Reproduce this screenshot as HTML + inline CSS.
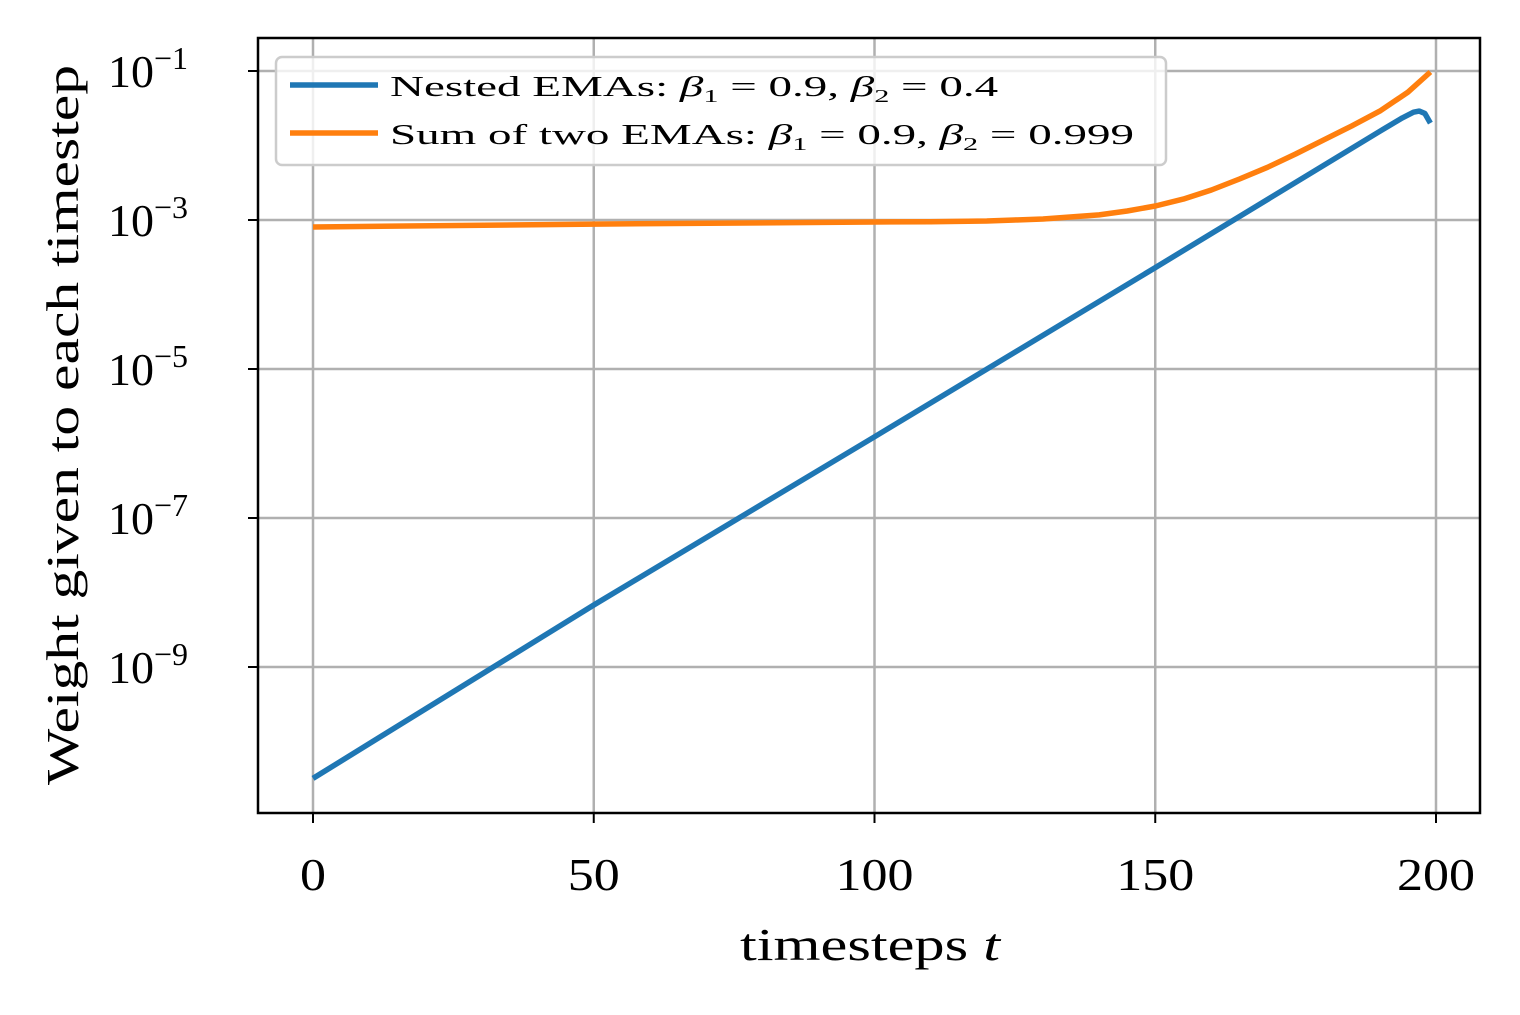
<!DOCTYPE html>
<html><head><meta charset="utf-8"><style>
body{margin:0;background:#fff;}
svg text{font-family:"Liberation Serif","DejaVu Serif",serif;fill:#000;}
</style></head><body>
<svg id="chart" width="1520" height="1010" xmlns="http://www.w3.org/2000/svg">
<rect width="1520" height="1010" fill="#fff"/>
<g id="grid"></g>
<g id="series"></g>
<rect x="258" y="38" width="1222" height="775" fill="none" stroke="#000" stroke-width="2.5"/>
<g id="ticks"></g>
<text x="740" y="960" font-size="46" textLength="260" lengthAdjust="spacingAndGlyphs">timesteps <tspan font-style="italic">t</tspan></text>
<text transform="translate(78,785) rotate(-90)" font-size="46" textLength="720" lengthAdjust="spacingAndGlyphs">Weight given to each timestep</text>
<g>
<rect x="276" y="57" width="890" height="108" rx="6" fill="#fff" fill-opacity="0.8" stroke="#ccc" stroke-width="2.5"/>
<line x1="290" y1="85" x2="378" y2="85" stroke="#1f77b4" stroke-width="5.5"/>
<text transform="translate(390,96) scale(1.68,1)" font-size="28">Nested EMAs: <tspan font-style="italic">β</tspan><tspan font-size="18" dy="6">1</tspan><tspan dy="-6"> = 0.9, </tspan><tspan font-style="italic">β</tspan><tspan font-size="18" dy="6">2</tspan><tspan dy="-6"> = 0.4</tspan></text>
<line x1="290" y1="133" x2="378" y2="133" stroke="#ff7f0e" stroke-width="5.5"/>
<text transform="translate(390,144) scale(1.68,1)" font-size="28">Sum of two EMAs: <tspan font-style="italic">β</tspan><tspan font-size="18" dy="6">1</tspan><tspan dy="-6"> = 0.9, </tspan><tspan font-style="italic">β</tspan><tspan font-size="18" dy="6">2</tspan><tspan dy="-6"> = 0.999</tspan></text>
</g>
</svg>
<script>
const xTicks=[0,50,100,150,200];
const yTickExps=[-1,-3,-5,-7,-9];
const nestedT=[0,50,100,150,190,194,196,197,198,199];
const nestedW=[3.2e-11,6.8e-9,1.23e-6,2.3e-4,1.55e-2,2.35e-2,2.8e-2,2.9e-2,2.7e-2,2.0e-2];
const sumT=[0,50,100,110,120,125,130,140,145,150,155,160,165,170,175,180,185,190,195,199];
const sumW=[8.05e-4,8.8e-4,9.4e-4,9.5e-4,9.7e-4,1.0e-3,1.03e-3,1.17e-3,1.32e-3,1.54e-3,1.91e-3,2.53e-3,3.55e-3,5.1e-3,7.7e-3,1.19e-2,1.83e-2,2.9e-2,5.2e-2,9.7e-2];
const NS='http://www.w3.org/2000/svg';
function xs(t){return 313+(1436-313)*t/200;}
function ys(v){return 71+(-1-Math.log10(v))*74.5;}
const grid=document.getElementById('grid'),ticks=document.getElementById('ticks'),series=document.getElementById('series');
function mk(tag,attrs,parent){const e=document.createElementNS(NS,tag);for(const k in attrs)e.setAttribute(k,attrs[k]);parent.appendChild(e);return e;}
xTicks.forEach(t=>{const x=xs(t);
 const g=mk('line',{x1:x,x2:x,y1:38,y2:813,stroke:'#b0b0b0','stroke-width':2.5},grid);
 
 
 const tk=mk('line',{x1:x,x2:x,y1:813,y2:823,stroke:'#000','stroke-width':2},ticks);
 
 
 const s=String(t);const w=s.length*26;
 const tx=mk('text',{x:x-w/2,y:890,'font-size':46,textLength:w,lengthAdjust:'spacingAndGlyphs'},ticks);
 tx.textContent=s;
 
 
});
yTickExps.forEach(e=>{const y=ys(Math.pow(10,e));
 const g=mk('line',{x1:258,x2:1480,y1:y,y2:y,stroke:'#b0b0b0','stroke-width':2.5},grid);
 
 
 const tk=mk('line',{x1:248,x2:258,y1:y,y2:y,stroke:'#000','stroke-width':2},ticks);
 
 
 const tx=mk('text',{x:108,y:y+16,'font-size':46},ticks);
 
 
 tx.appendChild(document.createTextNode('10'));
 const sp=document.createElementNS(NS,'tspan');sp.setAttribute('dy','-18');sp.setAttribute('font-size','32');sp.textContent='−'+(-e);tx.appendChild(sp);
});
function path(T,W,color,name){
 const d=T.map((t,i)=>(i?'L':'M')+xs(t).toFixed(1)+','+ys(W[i]).toFixed(1)).join(' ');
 const p=mk('path',{d:d,fill:'none',stroke:color,'stroke-width':5.5,'stroke-linejoin':'round'},series);
 
 
}
path(sumT,sumW,'#ff7f0e','sum-of-emas-line');
path(nestedT,nestedW,'#1f77b4','nested-emas-line');
</script>
</body></html>
